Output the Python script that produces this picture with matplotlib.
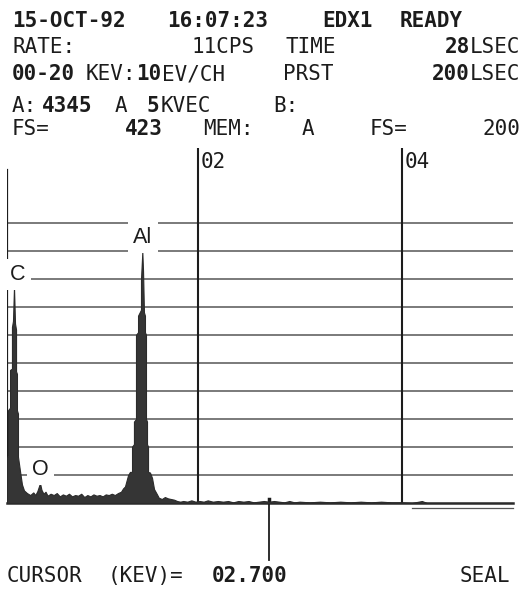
import matplotlib.pyplot as plt
import numpy as np

# EDX spectrum, 15-OCT-92 (counts per channel)
energy_kev = [0.132, 0.132, 0.142, 0.142, 0.162, 0.162, 0.181, 0.181, 0.191, 0.201,
              0.211, 0.221, 0.221, 0.230, 0.230, 0.240, 0.240, 0.260, 0.279, 0.299,
              0.328, 0.36, 0.39, 0.41, 0.43, 0.456, 0.47, 0.49, 0.51, 0.53,
              0.56, 0.59, 0.62, 0.65, 0.68, 0.71, 0.74, 0.77, 0.80, 0.83,
              0.86, 0.89, 0.92, 0.95, 0.98, 1.01, 1.04, 1.07, 1.10, 1.13,
              1.16, 1.19, 1.22, 1.25, 1.27, 1.289, 1.319, 1.338, 1.358, 1.358,
              1.377, 1.377, 1.397, 1.397, 1.417, 1.417, 1.446, 1.446, 1.459, 1.466,
              1.475, 1.485, 1.485, 1.495, 1.495, 1.505, 1.505, 1.515, 1.515, 1.534,
              1.554, 1.574, 1.603, 1.62, 1.65, 1.68, 1.71, 1.74, 1.77, 1.80,
              1.83, 1.86, 1.90, 1.94, 1.98, 2.02, 2.06, 2.10, 2.15, 2.20,
              2.25, 2.30, 2.35, 2.40, 2.45, 2.50, 2.55, 2.60, 2.65, 2.70,
              2.75, 2.80, 2.85, 2.90, 2.95, 3.00, 3.10, 3.20, 3.30, 3.40,
              3.50, 3.60, 3.70, 3.80, 3.90, 4.00, 4.10, 4.20, 4.25, 5.09]
counts = [0, 68, 72, 140, 144, 201, 203, 266, 275, 326,
          271, 262, 199, 195, 140, 135, 70, 48, 28, 19,
          15, 12, 16, 12, 18, 30, 20, 14, 17, 11,
          14, 12, 15, 10, 13, 11, 14, 10, 12, 11,
          14, 9, 12, 10, 13, 11, 12, 10, 13, 12,
          14, 12, 15, 17, 22, 25, 42, 47, 47, 85,
          89, 123, 127, 254, 258, 283, 292, 338, 379, 351,
          288, 283, 258, 254, 127, 123, 89, 85, 47, 46,
          38, 21, 13, 8, 6, 9, 7, 6, 5, 3,
          2, 3, 2, 4, 2, 3, 2, 4, 2, 3,
          2, 3, 1, 3, 2, 3, 1, 2, 3, 2,
          3, 2, 1, 3, 1, 2, 1, 2, 1, 2,
          1, 2, 1, 2, 1, 1, 0, 3, 0, 0]

peak_names = ["C", "O", "Al"]
marker_kev = [2.0, 4.0]
marker_labels = ["02", "04"]
cursor_kev = 2.7
full_scale = 423  # counts at the top grid line
n_div = 10

# header lines of the analyser screen: (row baseline px, left px, text, bold)
header = [
    (27, 12, "15-OCT-92", True), (27, 167, "16:07:23", True),
    (27, 322, "EDX1", True), (27, 400, "READY", True),
    (53, 12, "RATE:", False), (53, 192, "11CPS", False), (53, 285, "TIME", False),
    (53, 445, "28", True), (53, 470, "LSEC", False),
    (80, 12, "00-20", True), (80, 86, "KEV:", False), (80, 136, "10", True),
    (80, 162, "EV/CH", False), (80, 283, "PRST", False),
    (80, 432, "200", True), (80, 470, "LSEC", False),
    (112, 12, "A:", False), (112, 42, "4345", True), (112, 115, "A", False),
    (112, 147, "5", True), (112, 161, "KVEC", False), (112, 273, "B:", False),
    (135, 12, "FS=", False), (135, 125, "423", True), (135, 203, "MEM:", False),
    (135, 302, "A", False), (135, 370, "FS=", False), (135, 482, "200", False),
]
# bottom status line
footer = [(7, "CURSOR", False), (108, "(KEV)=", False), (212, "02.700", True),
          (460, "SEAL", False)]

W, H = 531, 591
INK = "#1c1c1c"
MONO = "DejaVu Sans Mono"
TXT_SIZE = 15

fig = plt.figure(figsize=(W / 100, H / 100), dpi=100)
fig.patch.set_facecolor("white")

# axes box in pixels: x 7..513, y 148..503 (baseline)
ax = fig.add_axes([7 / W, (H - 503) / H, 506 / W, 355 / H])
cpp = full_scale / n_div / 28.0  # counts per pixel
ax.set_xlim((7 + 6.5) / 102, (513 + 6.5) / 102)
ax.set_ylim(0, 355 * cpp)
ax.axis("off")

# horizontal division lines
for i in range(1, n_div + 1):
    ax.axhline(full_scale * i / n_div, color="#636363", lw=1.2, zorder=1)

# baseline + left axis
ax.axhline(0, color="#2a2a2a", lw=1.8, zorder=2, clip_on=False)
ax.plot([4.1, 5.09], [-7, -7], color="#555555", lw=0.9, clip_on=False)
ax.plot([ax.get_xlim()[0]] * 2, [0, 503], color=INK, lw=1.6, zorder=2)

# keV markers
for e, lab in zip(marker_kev, marker_labels):
    ax.axvline(e, color=INK, lw=1.5, zorder=2)
    ax.annotate(lab, xy=(e, 1), xycoords=("data", "axes fraction"),
                xytext=(3, -20), textcoords="offset pixels",
                family=MONO, fontsize=TXT_SIZE, color=INK, va="baseline")

# spectrum
ax.fill_between(energy_kev, counts, 0, color="#353535", lw=0.8,
                edgecolor="#2b2b2b", zorder=3)

# peak labels
label_pos = {"C": (17.5, 280), "O": (40.5, 475), "Al": (143, 243)}
for name in peak_names:
    px, py = label_pos[name]
    ax.text((px + 6.5) / 102, (503 - py) * cpp, name, ha="center", va="baseline",
            family="Liberation Sans", fontsize=15.5, color=INK, zorder=4,
            bbox=dict(boxstyle="square,pad=0.25", fc="white", ec="none"))

# cursor
ax.plot([cursor_kev, cursor_kev], [0, -57 * cpp], color=INK, lw=1.3, clip_on=False)
ax.plot([cursor_kev, cursor_kev], [0, 4 * cpp], color=INK, lw=2.5)

# screen text
for y, x, s, bold in header:
    fig.text(x / W, 1 - y / H, s, family=MONO, fontsize=TXT_SIZE, color=INK,
             weight="bold" if bold else "normal", va="baseline")
for x, s, bold in footer:
    fig.text(x / W, 1 - 582 / H, s, family=MONO, fontsize=TXT_SIZE, color=INK,
             weight="bold" if bold else "normal", va="baseline")

fig.savefig("out.png", dpi=100, facecolor="white")
